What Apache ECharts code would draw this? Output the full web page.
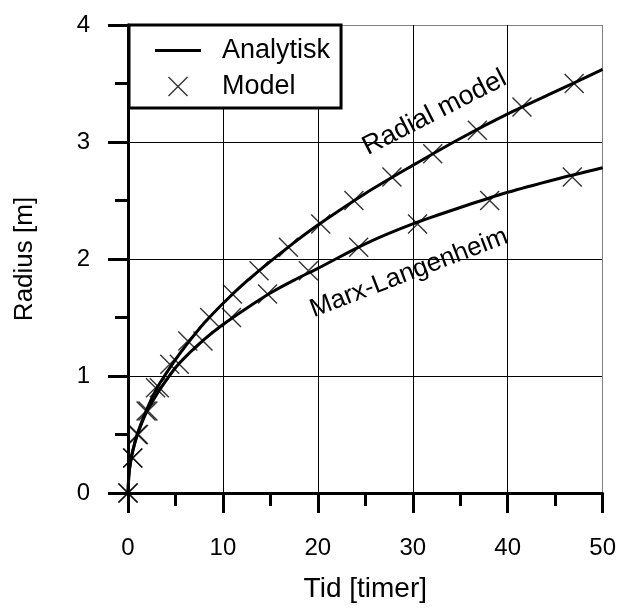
<!DOCTYPE html>
<html>
<head>
<meta charset="utf-8">
<script src="https://cdn.jsdelivr.net/npm/echarts@6/dist/echarts.min.js"></script>
<style>
  html, body { margin: 0; padding: 0; background: #fff; }
  #chart { width: 619px; height: 608px; }
</style>
</head>
<body>
<div id="chart"></div>
<script>
// analytic curves
const curveTime = [0, 0.1, 0.25, 0.5, 1, 2, 3, 4, 5, 6, 8, 10, 12.5, 15, 17.5, 20, 25, 30, 35, 40, 45, 50];
const radialCurve = [0, 0.16, 0.26, 0.36, 0.51, 0.72, 0.89, 1.02, 1.14, 1.25, 1.45, 1.62, 1.81, 1.98, 2.14, 2.29, 2.56, 2.80, 3.03, 3.24, 3.43, 3.62];
const marxCurve = [0, 0.16, 0.25, 0.36, 0.50, 0.70, 0.84, 0.96, 1.07, 1.16, 1.31, 1.44, 1.58, 1.71, 1.82, 1.92, 2.13, 2.30, 2.44, 2.57, 2.68, 2.78];

// model points (crosses)
const radialModelTime = [0, 0.5, 1.0, 1.9, 2.9, 4.4, 6.3, 8.6, 11.0, 13.8, 16.9, 20.3, 23.8, 27.8, 32.1, 36.8, 41.5, 47.0];
const radialModelRadius = [0, 0.3, 0.5, 0.7, 0.9, 1.1, 1.3, 1.5, 1.7, 1.9, 2.1, 2.3, 2.5, 2.7, 2.9, 3.1, 3.3, 3.5];
const marxModelTime = [0, 0.5, 1.1, 2.1, 3.3, 5.4, 7.9, 10.9, 14.7, 19.0, 24.3, 30.5, 38.1, 46.8];
const marxModelRadius = [0, 0.3, 0.5, 0.7, 0.9, 1.1, 1.3, 1.5, 1.7, 1.9, 2.1, 2.3, 2.5, 2.7];

const FONT = "'Liberation Sans', Arial, sans-serif";
const CROSS = "path://M0,1L1,0L20,19L19,20Z M19,0L20,1L1,20L0,19Z";
const LINE_ICON = "path://M0,0H46V3H0Z";

const zip = (xs, ys) => xs.map((x, i) => [x, ys[i]]);

const chart = echarts.init(document.getElementById("chart"), null, { renderer: "canvas" });

const lineSeries = (data) => ({
  name: "Analytisk",
  type: "line",
  data,
  smooth: 0.3,
  symbol: "none",
  lineStyle: { color: "#000", width: 3 },
  itemStyle: { color: "#000" },
  z: 3,
});

const crossSeries = (data) => ({
  name: "Model",
  type: "scatter",
  data,
  symbol: CROSS,
  symbolSize: 20,
  itemStyle: { color: "#000" },
  z: 4,
});

const axisCommon = {
  axisLine: { onZero: false, lineStyle: { color: "#000", width: 3 } },
  axisTick: { show: true, length: 20, lineStyle: { color: "#000", width: 3 } },
  minorTick: { show: true, splitNumber: 2, length: 13, lineStyle: { color: "#000", width: 3 } },
};

chart.setOption({
  animation: false,
  grid: { left: 128, right: 13, top: 25, bottom: 113 },
  legend: {
    data: [
      { name: "Analytisk", icon: LINE_ICON, itemStyle: { color: "#000" } },
      { name: "Model", icon: CROSS, itemStyle: { color: "#000" } },
    ],
    orient: "vertical",
    left: 129,
    top: 25,
    itemWidth: 46,
    itemHeight: 20,
    itemGap: 9,
    padding: [12, 11, 8, 26],
    borderColor: "#000",
    borderWidth: 3,
    backgroundColor: "#fff",
    selectedMode: false,
    textStyle: { fontFamily: FONT, fontSize: 27, color: "#000", lineHeight: 27, padding: [0, 0, 0, 16] },
  },
  xAxis: {
    ...axisCommon,
    type: "value",
    min: 0,
    max: 50,
    interval: 10,
    name: "Tid [timer]",
    nameLocation: "middle",
    nameGap: 82,
    nameTextStyle: { fontFamily: FONT, fontSize: 28, color: "#000" },
    axisLabel: { margin: 43, fontFamily: FONT, fontSize: 24, color: "#000" },
    splitLine: { show: true, lineStyle: { color: ["#000", "#000", "#000", "#000", "#000", "#808080"], width: 1 } },
  },
  yAxis: {
    ...axisCommon,
    type: "value",
    min: 0,
    max: 4,
    interval: 1,
    name: "Radius [m]",
    nameLocation: "middle",
    nameGap: 90,
    nameTextStyle: { fontFamily: FONT, fontSize: 26, color: "#000" },
    axisLabel: { margin: 38, fontFamily: FONT, fontSize: 24, color: "#000" },
    splitLine: { show: true, lineStyle: { color: ["#000", "#000", "#000", "#000", "#808080"], width: 1 } },
  },
  series: [
    lineSeries(zip(curveTime, radialCurve)),
    lineSeries(zip(curveTime, marxCurve)),
    crossSeries(zip(radialModelTime, radialModelRadius)),
    crossSeries(zip(marxModelTime, marxModelRadius)),
  ],
});

// curve labels, anchored in data space
const curveLabels = [
  { text: "Radial model", at: [32.3, 3.25], angle: 27, size: 27 },
  { text: "Marx-Langenheim", at: [29.6, 1.88], angle: 21, size: 26 },
];

chart.setOption({
  graphic: curveLabels.map((l) => {
    const [x, y] = chart.convertToPixel({ gridIndex: 0 }, l.at);
    return {
      type: "text",
      x,
      y,
      rotation: (l.angle * Math.PI) / 180,
      z: 10,
      style: {
        text: l.text,
        fontFamily: FONT,
        fontSize: l.size,
        fill: "#000",
        align: "center",
        verticalAlign: "middle",
      },
    };
  }),
});
</script>
</body>
</html>
